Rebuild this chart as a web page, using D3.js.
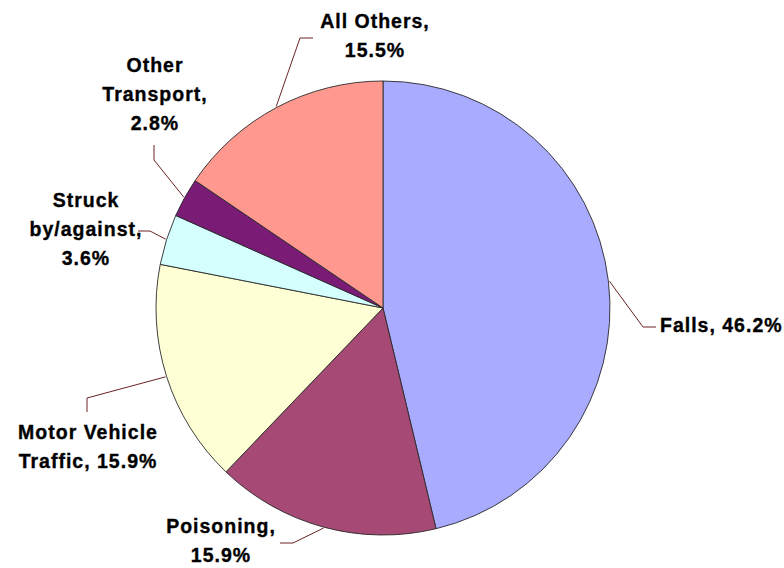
<!DOCTYPE html>
<html>
<head>
<meta charset="utf-8">
<script src="https://cdn.jsdelivr.net/npm/d3@7"></script>
<style>
  body { margin: 0; background: #fff; }
  .label { font-family: "Liberation Sans", Arial, sans-serif; font-weight: bold; font-size: 19.5px; letter-spacing: 1px; fill: #000; stroke: #000; stroke-width: 0.35px; }
  .leader { fill: none; stroke: #6b2222; stroke-width: 1; }
</style>
</head>
<body>
<div class="svg-wrapper"></div>
<script>
categories = ["Falls", "Poisoning", "Motor Vehicle Traffic", "Struck by/against", "Other Transport", "All Others"];
values     = [46.2, 15.9, 15.9, 3.6, 2.8, 15.5];
labelLines = [
  ["Falls, 46.2%"],
  ["Poisoning,", "15.9%"],
  ["Motor Vehicle", "Traffic, 15.9%"],
  ["Struck", "by/against,", "3.6%"],
  ["Other", "Transport,", "2.8%"],
  ["All Others,", "15.5%"]
];
colors = ["#a9abfe", "#a64975", "#ffffd6", "#d5ffff", "#7a1b76", "#ff9990"];

// where each label sits, and the elbow of its leader line
labelLayout = [
  { x: 660, y: 332, anchor: "start",  elbow: [643, 327], end: [656, 327] },
  { x: 221, y: 533, anchor: "middle", elbow: [293, 543], end: [280, 543] },
  { x: 88,  y: 439, anchor: "middle", elbow: [87, 398],  end: [87, 412] },
  { x: 86,  y: 207, anchor: "middle", elbow: [150, 231], end: [138, 231] },
  { x: 155, y: 72,  anchor: "middle", elbow: [154, 160], end: [154, 145] },
  { x: 375, y: 28,  anchor: "middle", elbow: [300, 38],  end: [313, 38] }
];

var width = 784, height = 568,
    cx = 383, cy = 308,
    radius = 227,
    lineHeight = 29;

var svg = d3.select(".svg-wrapper").append("svg")
              .attr("width", width)
              .attr("height", height);

var g = svg.append("g")
            .attr("transform", "translate(" + cx + "," + cy + ")");

var pie = d3.pie()
            .sort(null)
            .value(function(d) { return d; });

var arc = d3.arc()
            .innerRadius(0)
            .outerRadius(radius);

var arcs = pie(values);

g.selectAll(".slice")
    .data(arcs)
  .enter().append("path")
    .attr("class", "slice")
    .attr("d", arc)
    .attr("fill", function(d, i) { return colors[i]; })
    .attr("stroke", "#2a2a2a")
    .attr("stroke-width", 0.9)
    .attr("stroke-linejoin", "round");

// leader lines: from the slice's outer edge mid-angle to the label
svg.selectAll(".leader")
    .data(arcs)
  .enter().append("polyline")
    .attr("class", "leader")
    .attr("points", function(d, i) {
      var a = (d.startAngle + d.endAngle) / 2,
          r = radius + 1,
          p0 = [cx + r * Math.sin(a), cy - r * Math.cos(a)],
          L = labelLayout[i];
      return [p0, L.elbow, L.end].map(function(p) { return p.join(","); }).join(" ");
    });

var labels = svg.selectAll(".label")
    .data(categories)
  .enter().append("text")
    .attr("class", "label")
    .attr("text-anchor", function(d, i) { return labelLayout[i].anchor; })
    .attr("x", function(d, i) { return labelLayout[i].x; })
    .attr("y", function(d, i) { return labelLayout[i].y; });

labels.each(function(d, i) {
  var t = d3.select(this);
  labelLines[i].forEach(function(line, j) {
    t.append("tspan")
      .attr("x", labelLayout[i].x)
      .attr("dy", j === 0 ? 0 : lineHeight)
      .text(line);
  });
});
</script>
</body>
</html>
